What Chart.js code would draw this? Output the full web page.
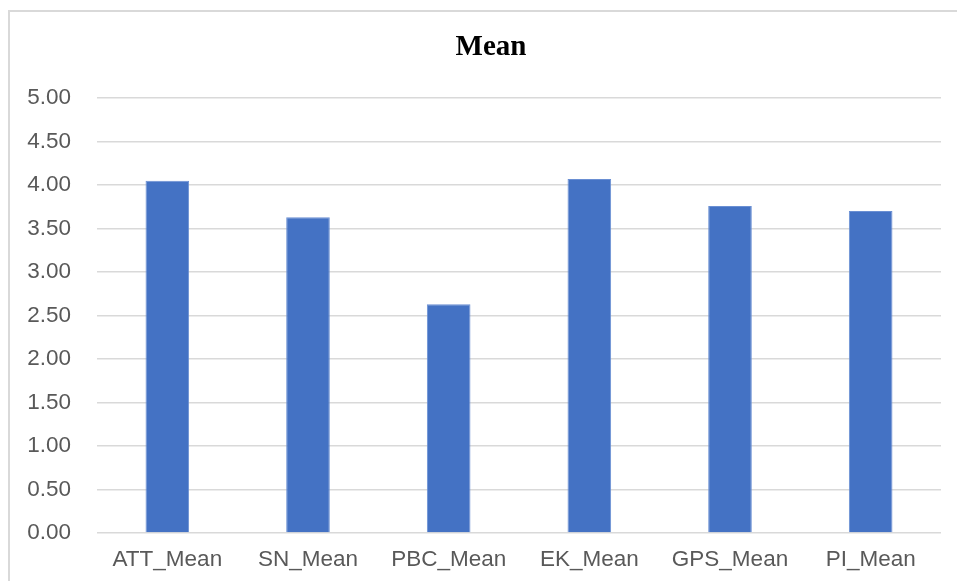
<!DOCTYPE html>
<html>
<head>
<meta charset="utf-8">
<script src="https://cdn.jsdelivr.net/npm/chart.js@4/dist/chart.umd.min.js"></script>
<style>
  html, body { margin: 0; padding: 0; background: #ffffff; }
  #wrap { position: relative; width: 957px; height: 581px; overflow: hidden; }
  #frame {
    position: absolute; left: 8px; top: 10px; right: -4px; bottom: -4px;
    border-top: 2px solid #d9d9d9; border-left: 2px solid #d9d9d9;
  }
  #c { position: absolute; left: 0; top: 0; }
</style>
</head>
<body>
<div id="wrap">
  <div id="frame"></div>
  <canvas id="c" width="957" height="581"></canvas>
</div>
<script>
// Construct means
const categories = ['ATT_Mean', 'SN_Mean', 'PBC_Mean', 'EK_Mean', 'GPS_Mean', 'PI_Mean'];
const meanValues = [4.05, 3.63, 2.63, 4.07, 3.76, 3.70];
const chartTitle = 'Mean';

const tickFont = { family: '"Liberation Sans", Arial, sans-serif', size: 22.5 };

// Title centred on the whole frame rather than on the plot area
const frameTitle = {
  id: 'frameTitle',
  afterDraw(chart) {
    const ctx = chart.ctx;
    ctx.save();
    ctx.font = 'bold 29px "Liberation Serif", "Times New Roman", serif';
    ctx.fillStyle = '#000000';
    ctx.textAlign = 'center';
    ctx.textBaseline = 'middle';
    ctx.fillText(chartTitle, 491, 48);
    ctx.restore();
  }
};

new Chart(document.getElementById('c'), {
  type: 'bar',
  data: {
    labels: categories,
    datasets: [{
      label: chartTitle,
      data: meanValues,
      backgroundColor: '#4472c4',
      borderColor: '#6a8fd3',
      borderWidth: 1,
      categoryPercentage: 1,
      barPercentage: 0.31
    }]
  },
  options: {
    responsive: false,
    animation: false,
    layout: { padding: { left: 0, right: 16, top: 98, bottom: 0 } },
    plugins: {
      legend: { display: false },
      tooltip: { enabled: false },
      title: { display: false }
    },
    scales: {
      x: {
        grid: { display: false, drawTicks: false },
        border: { display: false },
        ticks: { color: '#595959', font: tickFont, padding: 13, maxRotation: 0 },
        afterFit: (s) => { s.height = 48; }
      },
      y: {
        min: 0,
        max: 5,
        grid: { color: '#d9d9d9', lineWidth: 1.5, drawTicks: false },
        border: { display: false },
        ticks: {
          stepSize: 0.5,
          color: '#595959',
          font: tickFont,
          padding: 26,
          callback: (v) => Number(v).toFixed(2)
        },
        afterFit: (s) => { s.width = 97; }
      }
    }
  },
  plugins: [frameTitle]
});
</script>
</body>
</html>
